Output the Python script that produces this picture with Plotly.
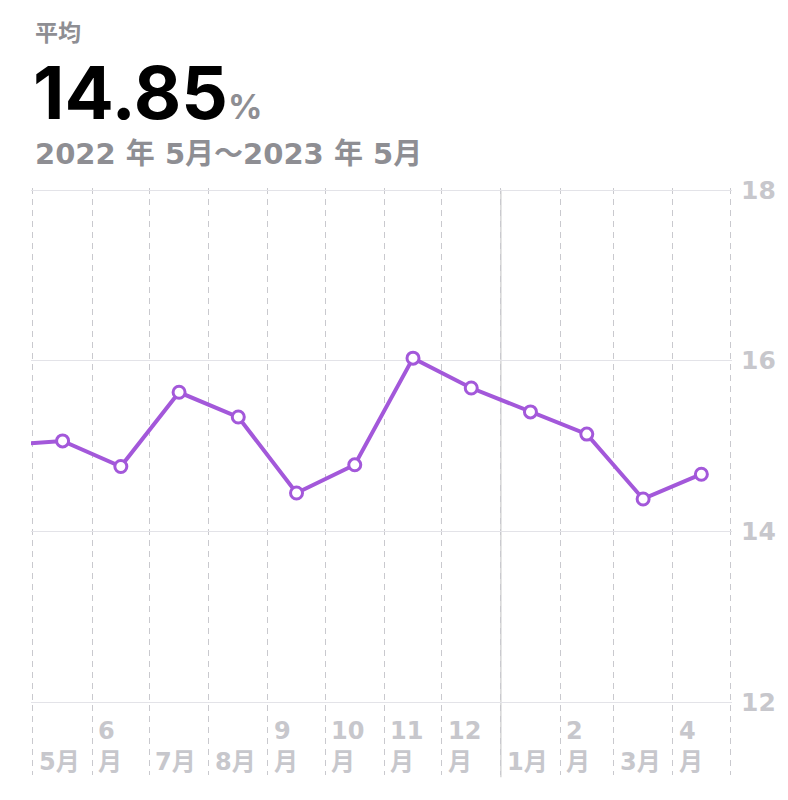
import pandas as pd
import plotly.graph_objects as go

# monthly averages (%), first value is April 2022, just off the left edge
months = ["2022-04", "2022-05", "2022-06", "2022-07", "2022-08", "2022-09", "2022-10",
          "2022-11", "2022-12", "2023-01", "2023-02", "2023-03", "2023-04"]
values = [15.01, 15.06, 14.76, 15.63, 15.34, 14.45, 14.78,
          16.03, 15.68, 15.40, 15.14, 14.38, 14.67]

month_starts = ["2022-05-01", "2022-06-01", "2022-07-01", "2022-08-01", "2022-09-01",
                "2022-10-01", "2022-11-01", "2022-12-01", "2023-01-01", "2023-02-01",
                "2023-03-01", "2023-04-01", "2023-05-01"]
month_labels = ["5月", "6<br>月", "7月", "8月", "9<br>月", "10<br>月", "11<br>月",
                "12<br>月", "1月", "2<br>月", "3月", "4<br>月"]
year_start = "2023-01-01"

y_ticks = [12, 14, 16, 18]

avg_label = "平均"
avg_value = "14.85"
period_label = "2022 年 5月〜2023 年 5月"

PURPLE = "#A358DA"
GRAY = "#8e8e93"
LIGHT = "#c7c7cc"
FONT = "DejaVu Sans, Noto Sans CJK JP"

periods = [pd.Period(m, "M") for m in months]
mid = [p.start_time + (p.end_time - p.start_time) / 2 for p in periods]

fig = go.Figure()
fig.add_trace(go.Scatter(
    x=mid, y=values, mode="lines+markers",
    line=dict(color=PURPLE, width=4),
    marker=dict(size=12, color="white", line=dict(color=PURPLE, width=3)),
    hoverinfo="skip",
))

# month labels under the plot
for d, t in zip(month_starts, month_labels):
    fig.add_annotation(x=d, y=-0.005, xref="x", yref="paper", text=t,
                       xanchor="left", yanchor="bottom", xshift=4, showarrow=False,
                       align="left",
                       font=dict(family=FONT, size=24, color=LIGHT, weight="bold"))

# header
fig.add_annotation(x=0, y=1.2641, xref="paper", yref="paper", text=avg_label,
                   xanchor="left", yanchor="middle", showarrow=False, xshift=2,
                   font=dict(family=FONT, size=23, color=GRAY, weight="bold"))
fig.add_annotation(x=0, y=1.1627, xref="paper", yref="paper",
                   text=avg_value + "<span style='font-size:34px;color:#8e8e93'>%</span>",
                   xanchor="left", yanchor="middle", showarrow=False, xshift=0,
                   font=dict(family="Inter, " + FONT, size=73, color="black", weight="bold"))
fig.add_annotation(x=0, y=1.0579, xref="paper", yref="paper", text=period_label,
                   xanchor="left", yanchor="middle", showarrow=False, xshift=2,
                   font=dict(family=FONT, size=29, color=GRAY, weight="bold"))

# solid line at the year change
fig.add_shape(type="line", x0=year_start, x1=year_start, xref="x", yref="paper",
              y0=-0.004, y1=0.997, line=dict(color="#d6d6d6", width=1.5), layer="below")

# ranges reach 2px past the edge lines so plotly keeps those grid lines
fig.update_xaxes(type="date", range=["2022-04-29 23:00", "2023-05-02 01:00"],
                 tickvals=month_starts, showticklabels=False,
                 showgrid=True, gridcolor="#c9c9ce", griddash="6px,5px", gridwidth=1,
                 zeroline=False, showline=False)
fig.update_yaxes(range=[11.145, 18.024], side="right", tickvals=y_ticks,
                 showgrid=True, gridcolor="#e3e3e8", gridwidth=1.2,
                 zeroline=False, showline=False, ticks="", ticklabelstandoff=8,
                 tickfont=dict(family=FONT, size=25, color=LIGHT, weight="bold"))

# the page adds an 8px body margin, so the figure is 8px smaller each way
fig.update_layout(width=780, height=792, margin=dict(l=23, r=53, t=180, b=25),
                  paper_bgcolor="white", plot_bgcolor="white", showlegend=False)

fig.write_html("out.html")
